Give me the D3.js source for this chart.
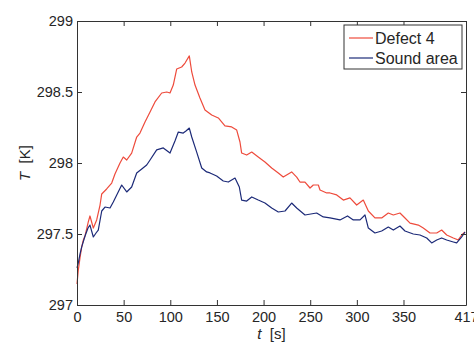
<!DOCTYPE html>
<html>
<head>
<meta charset="utf-8">
<script src="https://cdn.jsdelivr.net/npm/d3@7"></script>
<style>
  html, body { margin: 0; padding: 0; background: #fff; }
  svg { display: block; font-family: "Liberation Sans", Arial, sans-serif; }
</style>
</head>
<body>
<div id="chart"></div>
<script>
// time in seconds, shared idea: each series has its own sample times
const defectT = [0, 1.4, 3.2, 5.0, 6.8, 8.6, 12.1, 13.9, 17.5, 21.1, 24.7, 26.5, 31.8, 37.2, 40.7, 46.1,
  49.6, 53.3, 58.6, 64.0, 67.5, 72.9, 78.3, 83.6, 90.8, 96.2, 99.7, 103.2, 106.9, 112.2, 115.8, 120.4,
  123.0, 126.5, 131.8, 137.2, 144.4, 151.5, 158.6, 165.8, 171.2, 174.7, 176.5, 181.9, 187.3, 194.3,
  201.5, 208.7, 215.8, 221.1, 230.1, 235.5, 239.0, 244.4, 249.8, 253.3, 258.7, 260.5, 267.7, 271.2,
  278.4, 285.5, 292.6, 299.8, 306.9, 312.3, 319.4, 326.6, 333.7, 339.1, 346.2, 351.6, 357.0, 365.9,
  371.2, 378.4, 385.6, 390.9, 396.3, 403.4, 408.7, 412.4, 415.9];
const defectK = [297.148, 297.246, 297.331, 297.408, 297.458, 297.486, 297.585, 297.627, 297.542, 297.599,
  297.704, 297.782, 297.817, 297.859, 297.923, 298.000, 298.042, 298.021, 298.070, 298.183, 298.211,
  298.289, 298.359, 298.430, 298.493, 298.500, 298.493, 298.549, 298.662, 298.676, 298.704, 298.754,
  298.641, 298.549, 298.458, 298.373, 298.338, 298.317, 298.261, 298.254, 298.232, 298.148, 298.070,
  298.056, 298.077, 298.042, 298.007, 297.965, 297.930, 297.901, 297.937, 297.901, 297.866, 297.866,
  297.824, 297.845, 297.845, 297.810, 297.789, 297.789, 297.775, 297.739, 297.754, 297.704, 297.739,
  297.662, 297.613, 297.613, 297.648, 297.634, 297.648, 297.613, 297.577, 297.563, 297.542, 297.507,
  297.507, 297.528, 297.493, 297.472, 297.458, 297.493, 297.514];

const soundT = [0, 1.4, 3.2, 5.0, 8.6, 11.8, 13.9, 17.5, 20.4, 22.8, 26.5, 30.0, 35.4, 38.9, 42.6, 47.9,
  53.3, 58.6, 64.0, 69.4, 74.7, 78.3, 85.4, 92.5, 99.7, 105.0, 108.6, 113.9, 116.8, 120.4, 123.0,
  128.3, 133.7, 139.0, 142.6, 149.7, 156.8, 162.2, 169.4, 174.0, 176.5, 181.9, 187.3, 194.3, 201.5,
  208.7, 215.8, 223.0, 230.1, 235.5, 244.4, 256.9, 264.0, 271.2, 281.9, 290.0, 296.2, 303.4, 308.7,
  312.3, 319.4, 326.6, 333.7, 339.1, 346.2, 351.6, 360.5, 367.7, 374.9, 380.2, 385.6, 390.9, 396.3,
  403.4, 407.0, 412.4, 415.9];
const soundK = [297.261, 297.296, 297.359, 297.408, 297.486, 297.542, 297.563, 297.479, 297.507, 297.528,
  297.662, 297.690, 297.683, 297.725, 297.775, 297.845, 297.796, 297.831, 297.930, 297.958, 297.986,
  298.021, 298.092, 298.106, 298.070, 298.155, 298.218, 298.211, 298.225, 298.246, 298.183, 298.077,
  297.965, 297.937, 297.930, 297.908, 297.873, 297.866, 297.894, 297.831, 297.739, 297.732, 297.761,
  297.739, 297.718, 297.683, 297.655, 297.662, 297.718, 297.683, 297.634, 297.648, 297.620, 297.613,
  297.599, 297.627, 297.599, 297.599, 297.634, 297.542, 297.507, 297.521, 297.549, 297.528, 297.556,
  297.521, 297.500, 297.493, 297.472, 297.437, 297.458, 297.472, 297.458, 297.444, 297.437, 297.479,
  297.514];

const xTicks = [0, 50, 100, 150, 200, 250, 300, 350, 417];
const yTicks = [297, 297.5, 298, 298.5, 299];
const seriesNames = ['Defect 4', 'Sound area'];
const seriesColors = ['#ee4b3c', '#1c2a78'];

const width = 474, height = 345;
const margin = { top: 21, right: 8, bottom: 40, left: 77 };
const plotW = width - margin.left - margin.right;
const plotH = height - margin.top - margin.bottom;

const svg = d3.select('#chart')
  .append('svg')
  .attr('width', width)
  .attr('height', height);

const g = svg.append('g')
  .attr('transform', 'translate(' + margin.left + ',' + margin.top + ')');

const x = d3.scaleLinear().domain([0, 417]).range([0, plotW]);
const y = d3.scaleLinear().domain([297, 299]).range([plotH, 0]);

const line = d3.line()
  .x(d => x(d[0]))
  .y(d => y(d[1]));

const series = [
  d3.zip(defectT, defectK),
  d3.zip(soundT, soundK)
];

series.forEach((s, i) => {
  g.append('path')
    .datum(s)
    .attr('fill', 'none')
    .attr('stroke', seriesColors[i])
    .attr('stroke-width', 1.2)
    .attr('stroke-linejoin', 'round')
    .attr('d', line);
});

// axes, ticks pointing inwards on all four sides (boxed)
const fmt = d => String(d);
const styleAxis = sel => {
  sel.select('.domain').attr('stroke', '#333').attr('stroke-width', 1);
  sel.selectAll('.tick line').attr('stroke', '#333');
  sel.selectAll('.tick text').attr('fill', '#262626').style('font-size', '14.5px');
};

g.append('g')
  .attr('transform', 'translate(0,' + plotH + ')')
  .call(d3.axisBottom(x).tickValues(xTicks).tickFormat(fmt).tickSizeInner(-5).tickSizeOuter(0).tickPadding(7))
  .call(styleAxis);

g.append('g')
  .call(d3.axisTop(x).tickValues(xTicks).tickFormat('').tickSizeInner(-5).tickSizeOuter(0))
  .call(styleAxis);

g.append('g')
  .call(d3.axisLeft(y).tickValues(yTicks).tickFormat(fmt).tickSizeInner(-5).tickSizeOuter(0).tickPadding(4))
  .call(styleAxis);

g.append('g')
  .attr('transform', 'translate(' + plotW + ',0)')
  .call(d3.axisRight(y).tickValues(yTicks).tickFormat('').tickSizeInner(-5).tickSizeOuter(0))
  .call(styleAxis);

// axis titles
const xLab = svg.append('text')
  .attr('x', margin.left + plotW / 2)
  .attr('y', 339)
  .attr('text-anchor', 'middle')
  .attr('fill', '#262626')
  .style('font-size', '15px');
xLab.append('tspan').style('font-style', 'italic').text('t');
xLab.append('tspan').text('  [s]').attr('xml:space', 'preserve');

const yLab = svg.append('text')
  .attr('transform', 'translate(30,' + (margin.top + plotH / 2) + ') rotate(-90)')
  .attr('text-anchor', 'middle')
  .attr('fill', '#262626')
  .style('font-size', '15px');
yLab.append('tspan').style('font-style', 'italic').text('T');
yLab.append('tspan').text('  [K]').attr('xml:space', 'preserve');

// legend
const leg = svg.append('g').attr('transform', 'translate(344,25)');
leg.append('rect')
  .attr('width', 118).attr('height', 44)
  .attr('fill', '#fff').attr('stroke', '#333').attr('stroke-width', 1);
seriesNames.forEach((name, i) => {
  const cy = 13 + i * 20;
  leg.append('line')
    .attr('x1', 5).attr('x2', 29)
    .attr('y1', cy).attr('y2', cy)
    .attr('stroke', seriesColors[i]).attr('stroke-width', 1.2);
  leg.append('text')
    .attr('x', 31).attr('y', cy + 5.5)
    .attr('fill', '#262626')
    .style('font-size', '16px')
    .text(name);
});
</script>
</body>
</html>
